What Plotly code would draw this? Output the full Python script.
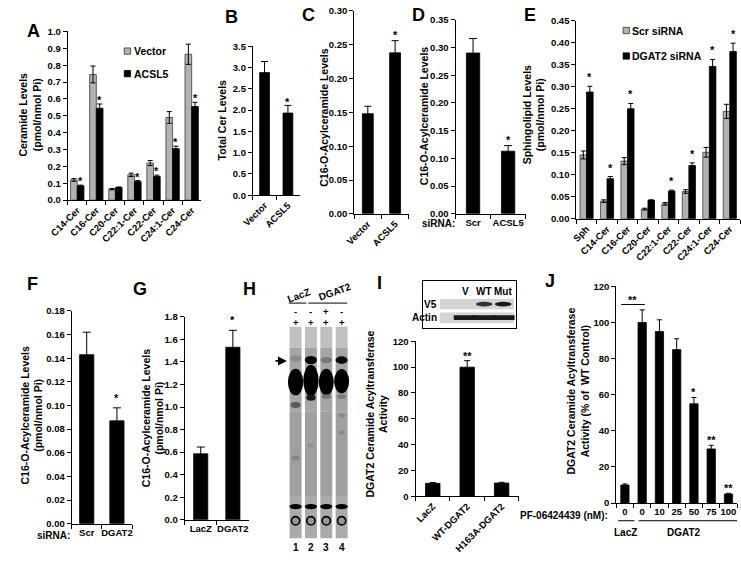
import plotly.graph_objects as go

W, H = 741, 563
FONT = "Liberation Sans, Arial, sans-serif"
GRAY = "#b2b2b2"

# ---------------- data ----------------
# Panel A
a_categories = ["C14-Cer", "C16-Cer", "C20-Cer", "C22:1-Cer", "C22-Cer", "C24:1-Cer", "C24-Cer"]
a_vector = [0.12, 0.745, 0.065, 0.15, 0.22, 0.49, 0.865]
a_vector_err = [0.008, 0.05, 0.004, 0.01, 0.015, 0.035, 0.06]
a_acsl5 = [0.085, 0.545, 0.075, 0.11, 0.14, 0.305, 0.555]
a_acsl5_err = [0.004, 0.025, 0.003, 0.006, 0.008, 0.015, 0.025]
a_sig = [1, 1, 0, 1, 1, 1, 1]

# Panel B
b_categories = ["Vector", "ACSL5"]
b_values = [2.88, 1.93]
b_err = [0.26, 0.18]
b_sig = [0, 1]

# Panel C
c_categories = ["Vector", "ACSL5"]
c_values = [0.148, 0.238]
c_err = [0.011, 0.018]
c_sig = [0, 1]

# Panel D
d_categories = ["Scr", "ACSL5"]
d_values = [0.29, 0.113]
d_err = [0.026, 0.01]
d_sig = [0, 1]

# Panel E
e_categories = ["Sph", "C14-Cer", "C16-Cer", "C20-Cer", "C22:1-Cer", "C22-Cer", "C24:1-Cer", "C24-Cer"]
e_scr = [0.145, 0.040, 0.131, 0.022, 0.034, 0.062, 0.151, 0.244]
e_scr_err = [0.009, 0.003, 0.008, 0.002, 0.003, 0.004, 0.011, 0.016]
e_dgat2 = [0.288, 0.091, 0.250, 0.042, 0.063, 0.121, 0.346, 0.380]
e_dgat2_err = [0.013, 0.005, 0.012, 0.001, 0.002, 0.006, 0.016, 0.019]
e_sig = [1, 1, 1, 0, 1, 1, 1, 1]

# Panel F
f_categories = ["Scr", "DGAT2"]
f_values = [0.143, 0.087]
f_err = [0.019, 0.011]
f_sig = [0, 1]

# Panel G
g_categories = ["LacZ", "DGAT2"]
g_values = [0.585, 1.53]
g_err = [0.06, 0.15]
g_sig = [0, 1]

# Panel H (TLC): lanes and bands (position = fraction from top of lane)
h_lanes = [1, 2, 3, 4]
h_lane_labels = ["1", "2", "3", "4"]
h_dag = ["-", "-", "+", "-"]
h_nbd = ["+", "+", "+", "+"]
h_shade_from = [0.0, 0.10, 0.40, 0.80]
h_shade_to = [0.10, 0.40, 0.80, 1.0]
h_shade_gray = [192, 165, 160, 170]
h_band_lane = [1, 2, 3, 4, 1, 2, 3, 4, 1, 2, 3, 4, 1, 2, 3, 4, 1, 4, 4, 2]
h_band_pos = [0.150, 0.158, 0.158, 0.158,
              0.262, 0.255, 0.262, 0.258,
              0.370, 0.335, 0.330, 0.330,
              0.850, 0.850, 0.850, 0.850,
              0.620, 0.420, 0.500, 0.560]
h_band_height = [0.030, 0.038, 0.030, 0.036,
                 0.125, 0.150, 0.125, 0.115,
                 0.028, 0.030, 0.022, 0.022,
                 0.024, 0.024, 0.024, 0.024,
                 0.025, 0.020, 0.020, 0.020]
h_band_width = [0.75, 0.80, 0.75, 0.80,
                1.00, 1.00, 0.98, 0.98,
                0.65, 0.60, 0.60, 0.60,
                0.80, 0.80, 0.80, 0.80,
                0.50, 0.45, 0.45, 0.45]
h_band_gray = [140, 5, 120, 10,
               0, 0, 0, 0,
               90, 25, 115, 125,
               0, 0, 0, 0,
               135, 140, 140, 145]
h_origin_pos = 0.917

# Panel I
i_categories = ["LacZ", "WT-DGAT2", "H163A-DGAT2"]
i_values = [10.0, 100.0, 10.2]
i_err = [0.6, 5.0, 0.6]
i_sig = ["", "**", ""]

# Panel I inset (western blot)
blot_lanes = ["V", "WT", "Mut"]
blot_rows = ["V5", "Actin"]
blot_v5 = [0.0, 0.85, 1.0]
blot_actin = [1.0, 1.0, 1.0]

# Panel J
j_categories = ["0", "0\u200b", "10", "25", "50", "75", "100"]
j_values = [10.0, 100.0, 95.0, 85.0, 55.0, 30.0, 5.0]
j_err = [0.6, 7.0, 6.5, 6.0, 3.5, 2.0, 0.4]
j_sig = ["", "", "", "", "*", "**", "**"]
j_groups = ["LacZ", "DGAT2"]


# ---------------- helpers ----------------
def xd(l, r):
    return [l / W, r / W]


def yd(t, b):
    return [1 - b / H, 1 - t / H]


def px(x):
    return x / W


def py(y):
    return 1 - y / H


def names(n):
    s = "" if n == 1 else str(n)
    return "xaxis" + s, "yaxis" + s, "x" + s, "y" + s


fig = go.Figure()
layout = {}
annotations = []
shapes = []

TF = dict(family=FONT, size=9.5, color="black", weight="bold")


def add_axes(n, xdom, ydom, yrange, dtick, fmt, ncat, tickangle=0):
    xa, ya, xr, yr = names(n)
    layout[xa] = dict(domain=xdom, anchor=yr, type="category", range=[-0.5, ncat - 0.5],
                      showline=True, linecolor="black", linewidth=1, ticks="outside",
                      ticklen=4, tickcolor="black", tickson="boundaries", showgrid=False,
                      zeroline=False, tickangle=tickangle, tickfont=TF, fixedrange=True)
    layout[ya] = dict(domain=ydom, anchor=xr, range=yrange, dtick=dtick, tick0=0,
                      tickformat=fmt, showline=True, linecolor="black", linewidth=1,
                      ticks="outside", ticklen=4, tickcolor="black", showgrid=False,
                      zeroline=False, tickfont=TF, fixedrange=True)


def add_bars(n, cats, vals, errs, color, width, offset, cap):
    _, _, xr, yr = names(n)
    fig.add_trace(go.Bar(
        x=cats, y=vals, width=width, offset=offset,
        marker=dict(color=color, line=dict(color="#3c3c3c" if color != "black" else "black",
                                           width=0.8)),
        error_y=dict(type="data", array=errs, visible=True, color="black", thickness=1, width=cap),
        xaxis=xr, yaxis=yr, showlegend=False, hoverinfo="skip"))


def add_stars(n, marks, vals, errs, shift, yshift=-3):
    _, _, xr, yr = names(n)
    for i, (m, v, e) in enumerate(zip(marks, vals, errs)):
        if not m:
            continue
        txt = m if isinstance(m, str) else "*"
        annotations.append(dict(x=i + shift, y=v + e, xref=xr, yref=yr, text=txt,
                                showarrow=False, yanchor="bottom", xanchor="center",
                                yshift=yshift, font=dict(family=FONT, size=11, weight="bold")))


def ytitle(text, x, y):
    annotations.append(dict(x=px(x), y=py(y), xref="paper", yref="paper", text=text,
                            textangle=-90, showarrow=False, xanchor="center", yanchor="middle",
                            font=dict(family=FONT, size=10.5, weight="bold")))


def letter(text, x, y):
    annotations.append(dict(x=px(x), y=py(y), xref="paper", yref="paper", text=text,
                            showarrow=False, xanchor="center", yanchor="middle",
                            font=dict(family=FONT, size=18, weight="bold")))


def label(text, x, y, anchor="center", size=10, angle=0, xref="paper"):
    annotations.append(dict(x=x if xref != "paper" else px(x), y=py(y), xref=xref, yref="paper",
                            text=text, showarrow=False, xanchor=anchor, yanchor="middle",
                            textangle=angle, font=dict(family=FONT, size=size, weight="bold")))


def legend_item(x, y, color, text):
    shapes.append(dict(type="rect", xref="paper", yref="paper", x0=px(x), x1=px(x + 6.5),
                       y0=py(y + 3.2), y1=py(y - 3.2), fillcolor=color,
                       line=dict(color="#333" if color != "black" else "black", width=0.8)))
    annotations.append(dict(x=px(x + 7.5), y=py(y), xref="paper", yref="paper", text=text,
                            showarrow=False, xanchor="left", yanchor="middle",
                            font=dict(family=FONT, size=10.5, weight="bold")))


# ---------------- Panel A ----------------
add_axes(1, xd(50, 187), yd(26, 198), [0, 1.0], 0.1, ".1f", len(a_categories), -45)
add_bars(1, a_categories, a_vector, a_vector_err, GRAY, 0.35, -0.35, 2.5)
add_bars(1, a_categories, a_acsl5, a_acsl5_err, "black", 0.35, 0.0, 2.5)
add_stars(1, a_sig, a_acsl5, a_acsl5_err, 0.175, -4)
legend_item(108, 46, GRAY, "Vector")
legend_item(108, 69, "black", "ACSL5")
ytitle("Ceramide Levels<br>(pmol/nmol Pi)", 11, 111)
letter("A", 15, 25)

# ---------------- Panel B ----------------
add_axes(2, xd(240, 288), yd(41, 193), [0, 3.5], 0.5, ".1f", 2, -45)
add_bars(2, b_categories, b_values, b_err, "black", 0.42, -0.21, 3.5)
add_stars(2, b_sig, b_values, b_err, 0.0, -5)
ytitle("Total Cer Levels", 208, 117)
letter("B", 218, 11)

# ---------------- Panel C ----------------
add_axes(3, xd(344, 400), yd(5, 212), [0, 0.30], 0.05, ".2f", 2, -45)
add_bars(3, c_categories, c_values, c_err, "black", 0.40, -0.20, 3.5)
add_stars(3, c_sig, c_values, c_err, 0.0, -2)
ytitle("C16-O-Acylceramide Levels", 313, 114)
letter("C", 297, 9)

# ---------------- Panel D ----------------
add_axes(4, xd(448, 520), yd(14, 212), [0, 0.35], 0.05, ".2f", 2, 0)
add_bars(4, d_categories, d_values, d_err, "black", 0.38, -0.19, 4)
add_stars(4, d_sig, d_values, d_err, 0.0, -2)
label("siRNA:", 450, 222, anchor="right", size=10)
ytitle("C16-O-Acylceramide Levels", 415, 112)
letter("D", 410, 9)

# ---------------- Panel E ----------------
add_axes(5, xd(572, 740), yd(15, 217), [0, 0.45], 0.05, ".2f", len(e_categories), -45)
add_bars(5, e_categories, e_scr, e_scr_err, GRAY, 0.32, -0.32, 2.5)
add_bars(5, e_categories, e_dgat2, e_dgat2_err, "black", 0.32, 0.0, 2.5)
add_stars(5, e_sig, e_dgat2, e_dgat2_err, 0.16, 1)
legend_item(620, 25, GRAY, "Scr siRNA")
legend_item(620, 51, "black", "DGAT2 siRNA")
ytitle("Sphingolipid Levels<br>(pmol/nmol Pi)", 528, 111)
letter("E", 524, 9)

# ---------------- Panel F ----------------
add_axes(6, xd(54, 116), yd(311, 528), [0, 0.18], 0.02, ".2f", 2, 0)
add_bars(6, f_categories, f_values, f_err, "black", 0.47, -0.235, 4)
add_stars(6, f_sig, f_values, f_err, 0.0, 2)
label("siRNA:", 54, 540, anchor="right", size=10)
ytitle("C16-O-Acylceramide Levels<br>(pmol/nmol Pi)", 13, 418)
letter("F", 14, 284)

# ---------------- Panel G ----------------
add_axes(7, xd(170, 236), yd(317, 524), [0, 1.8], 0.2, ".1f", 2, 0)
add_bars(7, g_categories, g_values, g_err, "black", 0.44, -0.22, 4)
add_stars(7, g_sig, g_values, g_err, 0.0, 2)
ytitle("C16-O-Acylceramide Levels<br>(pmol/nmol Pi)", 137, 420)
letter("G", 124, 289)

# ---------------- Panel H (TLC plate) ----------------
xa, ya, xr, yr = names(8)
layout[xa] = dict(domain=xd(276, 339), anchor=yr, range=[0.5, 4.5], visible=False, fixedrange=True)
layout[ya] = dict(domain=yd(327, 543), anchor=xr, range=[0, 1], visible=False, fixedrange=True)
fig.add_trace(go.Scatter(x=h_lanes, y=[0.5] * len(h_lanes), mode="markers",
                         marker=dict(opacity=0), xaxis=xr, yaxis=yr, showlegend=False,
                         hoverinfo="skip"))
for lane in h_lanes:
    for a, b, g in zip(h_shade_from, h_shade_to, h_shade_gray):
        shapes.append(dict(type="rect", xref=xr, yref=yr, x0=lane - 0.39, x1=lane + 0.39,
                           y0=1 - b, y1=1 - a, fillcolor=f"rgb({g},{g},{g})",
                           line=dict(width=0), layer="below"))
for lane, pos, hh, ww, g in zip(h_band_lane, h_band_pos, h_band_height, h_band_width, h_band_gray):
    shapes.append(dict(type="circle", xref=xr, yref=yr, x0=lane - ww / 2, x1=lane + ww / 2,
                       y0=1 - pos - hh / 2, y1=1 - pos + hh / 2, fillcolor=f"rgb({g},{g},{g})",
                       line=dict(width=0)))
for lane in h_lanes:
    shapes.append(dict(type="circle", xref=xr, yref=yr, x0=lane - 0.27, x1=lane + 0.27,
                       y0=1 - h_origin_pos - 0.02, y1=1 - h_origin_pos + 0.02,
                       fillcolor="rgb(150,150,150)", line=dict(color="black", width=1.6)))
# H labels
label("LacZ", 1.2, 295, size=10, angle=-20, xref=xr)
label("DGAT2", 3.6, 291, size=10, angle=-20, xref=xr)
shapes.append(dict(type="line", xref=xr, yref="paper", x0=0.56, x1=1.7, y0=py(303), y1=py(303),
                   line=dict(color="black", width=1)))
shapes.append(dict(type="line", xref=xr, yref="paper", x0=1.83, x1=4.37, y0=py(303), y1=py(303),
                   line=dict(color="black", width=1)))
label("DAG:", 0.25, 312, anchor="right", size=9.5, xref=xr)
label("NBD-Cer:", 0.31, 323, anchor="right", size=9.5, xref=xr)
for lane, dsym, nsym, num in zip(h_lanes, h_dag, h_nbd, h_lane_labels):
    label(dsym, lane, 312, size=9.5, xref=xr)
    label(nsym, lane, 323, size=9.5, xref=xr)
    label(num, lane, 552, xref=xr)
annotations.append(dict(x=px(275), y=py(362), xref="paper", yref="paper", text="",
                        showarrow=True, ax=-13, ay=0, arrowhead=2, arrowsize=1.0,
                        arrowwidth=1.8, arrowcolor="black"))
letter("H", 237, 289)

# ---------------- Panel I ----------------
add_axes(9, xd(407, 513), yd(342, 500), [0, 120], 20, "", len(i_categories), -45)
add_bars(9, i_categories, i_values, i_err, "black", 0.42, -0.21, 3)
add_stars(9, i_sig, i_values, i_err, 0.0, -3)
ytitle("DGAT2 Ceramide Acyltransferase<br>Activity", 367, 416)
letter("I", 370, 283)

# inset blot
xa, ya, xr, yr = names(10)
layout[xa] = dict(domain=xd(415, 510), anchor=yr, range=[-1.2, 3.67], showline=True, mirror=True,
                  linecolor="black", linewidth=1, showticklabels=False, ticks="",
                  showgrid=False, zeroline=False, fixedrange=True)
layout[ya] = dict(domain=yd(280, 328), anchor=xr, range=[0, 1], showline=True, mirror=True,
                  linecolor="black", linewidth=1, showticklabels=False, ticks="",
                  showgrid=False, zeroline=False, fixedrange=True)
fig.add_trace(go.Scatter(x=[1, 2, 3], y=[0.5, 0.5, 0.5], mode="markers", marker=dict(opacity=0),
                         xaxis=xr, yaxis=yr, showlegend=False, hoverinfo="skip"))
row_y = [0.5, 0.21]
for r, (ry, intens) in enumerate(zip(row_y, [blot_v5, blot_actin])):
    shapes.append(dict(type="rect", xref=xr, yref=yr, x0=-0.33, x1=3.56, y0=ry - 0.11,
                       y1=ry + 0.11, fillcolor="rgb(212,212,212)", line=dict(width=0)))
    for k, v in enumerate(intens):
        if v <= 0:
            continue
        g = int(200 - 175 * v)
        half = 0.6 if r == 1 else 0.44
        shapes.append(dict(type="circle" if r == 0 else "rect", xref=xr, yref=yr,
                           x0=k + 1 - half, x1=k + 1 + half,
                           y0=ry - 0.05, y1=ry + 0.05, fillcolor=f"rgb({g},{g},{g})",
                           line=dict(width=0)))
for k, nm in enumerate(blot_lanes):
    annotations.append(dict(x=k + 1, y=0.77, xref=xr, yref=yr, text=nm, showarrow=False,
                            font=dict(family=FONT, size=10, weight="bold")))
for ry, nm in zip(row_y, blot_rows):
    annotations.append(dict(x=-0.38, y=ry, xref=xr, yref=yr, text=nm, showarrow=False,
                            xanchor="right", font=dict(family=FONT, size=10, weight="bold")))

# ---------------- Panel J ----------------
add_axes(11, xd(613, 737), yd(286, 507), [0, 120], 20, "", len(j_categories), 0)
add_bars(11, j_categories, j_values, j_err, "black", 0.48, -0.24, 2.5)
add_stars(11, j_sig, j_values, j_err, 0.0, -3)
xa, ya, xr, yr = names(11)
shapes.append(dict(type="line", xref=xr, yref=yr, x0=-0.22, x1=1.15, y0=110, y1=110,
                   line=dict(color="black", width=1)))
annotations.append(dict(x=0.46, y=110, xref=xr, yref=yr, text="**", showarrow=False,
                        yanchor="bottom", yshift=-4, font=dict(family=FONT, size=11, weight="bold")))
label("PF-06424439 (nM):", 607, 520, anchor="right", size=10)
shapes.append(dict(type="line", xref=xr, yref="paper", x0=-0.39, x1=0.55, y0=py(525), y1=py(525),
                   line=dict(color="black", width=1)))
shapes.append(dict(type="line", xref=xr, yref="paper", x0=0.8, x1=6.73, y0=py(525), y1=py(525),
                   line=dict(color="black", width=1)))
label(j_groups[0], 0.06, 537, xref=xr)
label(j_groups[1], 3.45, 537, xref=xr)
ytitle("DGAT2 Ceramide Acyltransferase<br>Activity (% of  WT Control)", 574, 393)
letter("J", 545, 280)

fig.update_layout(
    width=W, height=H, margin=dict(l=0, r=0, t=0, b=0, pad=0),
    paper_bgcolor="white", plot_bgcolor="white", barmode="overlay",
    font=dict(family=FONT, size=10, color="black", weight="bold"),
    showlegend=False, annotations=annotations, shapes=shapes, **layout)

fig.write_html("out.html", config={"displayModeBar": False, "staticPlot": True},
               post_script="document.body.style.margin='0';document.body.style.padding='0';"
                           "document.documentElement.style.overflow='hidden';")
